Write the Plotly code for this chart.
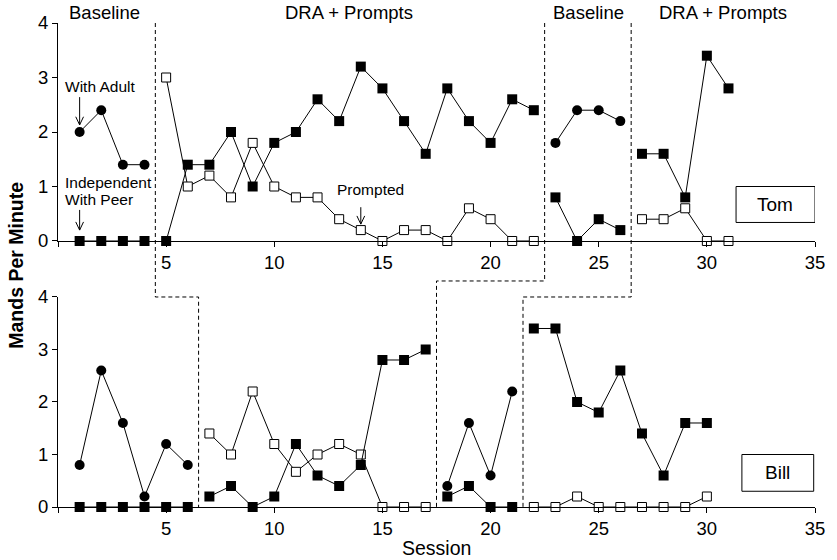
import plotly.graph_objects as go

# ---------------- DATA ----------------
# Tom (top panel)
tom_bl1_sessions = [1, 2, 3, 4]
tom_bl1_adult = [2.0, 2.4, 1.4, 1.4]
tom_bl1_peer = [0, 0, 0, 0]

tom_dra1_sessions = list(range(5, 23))
tom_dra1_indep = [0, 1.4, 1.4, 2.0, 1.0, 1.8, 2.0, 2.6, 2.2, 3.2, 2.8, 2.2, 1.6, 2.8, 2.2, 1.8, 2.6, 2.4]
tom_dra1_prompt = [3.0, 1.0, 1.2, 0.8, 1.8, 1.0, 0.8, 0.8, 0.4, 0.2, 0, 0.2, 0.2, 0, 0.6, 0.4, 0, 0]

tom_bl2_sessions = [23, 24, 25, 26]
tom_bl2_adult = [1.8, 2.4, 2.4, 2.2]
tom_bl2_peer = [0.8, 0, 0.4, 0.2]

tom_dra2_sessions = [27, 28, 29, 30, 31]
tom_dra2_indep = [1.6, 1.6, 0.8, 3.4, 2.8]
tom_dra2_prompt = [0.4, 0.4, 0.6, 0, 0]

# Bill (bottom panel)
bill_bl1_sessions = [1, 2, 3, 4, 5, 6]
bill_bl1_adult = [0.8, 2.6, 1.6, 0.2, 1.2, 0.8]
bill_bl1_peer = [0, 0, 0, 0, 0, 0]

bill_dra1_sessions = list(range(7, 18))
bill_dra1_indep = [0.2, 0.4, 0, 0.2, 1.2, 0.6, 0.4, 0.8, 2.8, 2.8, 3.0]
bill_dra1_prompt = [1.4, 1.0, 2.2, 1.2, 0.67, 1.0, 1.2, 1.0, 0, 0, 0]

bill_bl2_sessions = [18, 19, 20, 21]
bill_bl2_adult = [0.4, 1.6, 0.6, 2.2]
bill_bl2_peer = [0.2, 0.4, 0, 0]

bill_dra2_sessions = list(range(22, 31))
bill_dra2_indep = [3.4, 3.4, 2.0, 1.8, 2.6, 1.4, 0.6, 1.6, 1.6]
bill_dra2_prompt = [0, 0, 0.2, 0, 0, 0, 0, 0, 0.2]

x_tickvals = [0, 5, 10, 15, 20, 25, 30, 35]
x_ticktext = ["", "5", "10", "15", "20", "25", "30", "35"]
y_tickvals = [0, 1, 2, 3, 4]

phase_labels = ["Baseline", "DRA + Prompts", "Baseline", "DRA + Prompts"]
phase_label_x = [2.15, 13.45, 24.52, 30.74]

# ---------------- STYLE ----------------
FONT = "Arial, Liberation Sans, sans-serif"
TOP_DOM = [0.5496, 1.0]
BOT_DOM = [0.0, 0.4339]

fig = go.Figure()


def add_series(x, y, kind, xa, ya):
    if kind == "circle":
        marker = dict(symbol="circle", size=10, color="black")
    elif kind == "filled":
        marker = dict(symbol="square", size=10, color="black")
    else:
        marker = dict(symbol="square", size=9, color="white", line=dict(color="black", width=1))
    fig.add_trace(go.Scatter(
        x=x, y=y, mode="lines+markers", xaxis=xa, yaxis=ya,
        line=dict(color="black", width=1), marker=marker,
        cliponaxis=False, showlegend=False, hoverinfo="x+y"))


# Tom
add_series(tom_bl1_sessions, tom_bl1_adult, "circle", "x", "y")
add_series(tom_bl1_sessions, tom_bl1_peer, "filled", "x", "y")
add_series(tom_dra1_sessions, tom_dra1_prompt, "open", "x", "y")
add_series(tom_dra1_sessions, tom_dra1_indep, "filled", "x", "y")
add_series(tom_bl2_sessions, tom_bl2_adult, "circle", "x", "y")
add_series(tom_bl2_sessions, tom_bl2_peer, "filled", "x", "y")
add_series(tom_dra2_sessions, tom_dra2_prompt, "open", "x", "y")
add_series(tom_dra2_sessions, tom_dra2_indep, "filled", "x", "y")

# Bill
add_series(bill_bl1_sessions, bill_bl1_adult, "circle", "x2", "y2")
add_series(bill_bl1_sessions, bill_bl1_peer, "filled", "x2", "y2")
add_series(bill_dra1_sessions, bill_dra1_prompt, "open", "x2", "y2")
add_series(bill_dra1_sessions, bill_dra1_indep, "filled", "x2", "y2")
add_series(bill_bl2_sessions, bill_bl2_adult, "circle", "x2", "y2")
add_series(bill_bl2_sessions, bill_bl2_peer, "filled", "x2", "y2")
add_series(bill_dra2_sessions, bill_dra2_prompt, "open", "x2", "y2")
add_series(bill_dra2_sessions, bill_dra2_indep, "filled", "x2", "y2")

axis_common = dict(
    showline=True, linecolor="black", linewidth=1, ticks="outside", ticklen=5,
    tickcolor="black", tickwidth=1, showgrid=False, zeroline=False,
    tickfont=dict(family=FONT, size=18.5, color="black"),
)
xax = dict(range=[0, 35], tickvals=x_tickvals, ticktext=x_ticktext, **axis_common)
yax = dict(range=[0, 4], tickvals=y_tickvals, **axis_common)

shapes = []
dash = "4px,3px"
# phase change lines (staggered across panels)
for xt, ymid, xb in [(4.5, 0.4339, 6.5), (22.5, 0.467, 17.5), (26.5, 0.4339, 21.5)]:
    shapes.append(dict(type="path", xref="x", yref="paper",
                       path=f"M {xt},1.0 L {xt},{ymid} L {xb},{ymid} L {xb},0",
                       line=dict(color="black", width=1, dash=dash)))

# arrows (open V heads)
def arrow(x, y0, y1, xref, yref, dx=0.18, dy=0.15):
    return dict(type="path", xref=xref, yref=yref,
                path=f"M {x},{y0} L {x},{y1} M {x-dx},{y1+dy} L {x},{y1} L {x+dx},{y1+dy}",
                line=dict(color="black", width=1))

shapes.append(arrow(1, 2.64, 2.13, "x", "y"))
shapes.append(arrow(1, 0.57, 0.20, "x", "y"))
shapes.append(arrow(14, 0.62, 0.31, "x", "y"))

# name boxes
shapes.append(dict(type="rect", xref="x", yref="y", x0=31.35, x1=35.0, y0=0.34, y1=1.0,
                   line=dict(color="black", width=1), fillcolor="white"))
shapes.append(dict(type="rect", xref="x2", yref="y2", x0=31.62, x1=34.94, y0=0.3, y1=1.0,
                   line=dict(color="black", width=1), fillcolor="white"))

annotations = []
for lab, xp in zip(phase_labels, phase_label_x):
    annotations.append(dict(text=lab, x=xp, y=1.0227, xref="x", yref="paper", showarrow=False,
                            xanchor="center", yanchor="middle",
                            font=dict(family=FONT, size=18.5, color="black")))

ann_font = dict(family=FONT, size=15.5, color="black")
annotations += [
    dict(text="With Adult", x=1.92, y=2.83, xref="x", yref="y", showarrow=False,
         xanchor="center", yanchor="middle", font=ann_font),
    dict(text="Independent", x=0.23, y=1.08, xref="x", yref="y", showarrow=False,
         xanchor="left", yanchor="middle", font=ann_font),
    dict(text="With Peer", x=0.23, y=0.77, xref="x", yref="y", showarrow=False,
         xanchor="left", yanchor="middle", font=ann_font),
    dict(text="Prompted", x=14.46, y=0.94, xref="x", yref="y", showarrow=False,
         xanchor="center", yanchor="middle", font=ann_font),
    dict(text="Tom", x=33.17, y=0.67, xref="x", yref="y", showarrow=False,
         xanchor="center", yanchor="middle", font=dict(family=FONT, size=19, color="black")),
    dict(text="Bill", x=33.28, y=0.65, xref="x2", yref="y2", showarrow=False,
         xanchor="center", yanchor="middle", font=dict(family=FONT, size=19, color="black")),
    dict(text="<b>Mands Per Minute</b>", x=-0.0558, y=0.5, xref="paper", yref="paper",
         showarrow=False, textangle=-90, xanchor="center", yanchor="middle",
         font=dict(family=FONT, size=19.5, color="black")),
    dict(text="Session", x=0.4996, y=-0.085, xref="paper", yref="paper", showarrow=False,
         xanchor="center", yanchor="middle", font=dict(family=FONT, size=19.5, color="black")),
]

fig.update_layout(
    width=837, height=560,
    margin=dict(l=58, r=14, t=23, b=53),
    paper_bgcolor="white", plot_bgcolor="white",
    xaxis=dict(domain=[0, 1], anchor="y", **xax),
    yaxis=dict(domain=TOP_DOM, anchor="x", **yax),
    xaxis2=dict(domain=[0, 1], anchor="y2", **xax),
    yaxis2=dict(domain=BOT_DOM, anchor="x2", **yax),
    shapes=shapes, annotations=annotations,
    showlegend=False,
)

fig.write_html(
    "out.html",
    config={"displayModeBar": False},
    post_script="document.body.style.margin='0';document.body.style.overflow='hidden';",
)
